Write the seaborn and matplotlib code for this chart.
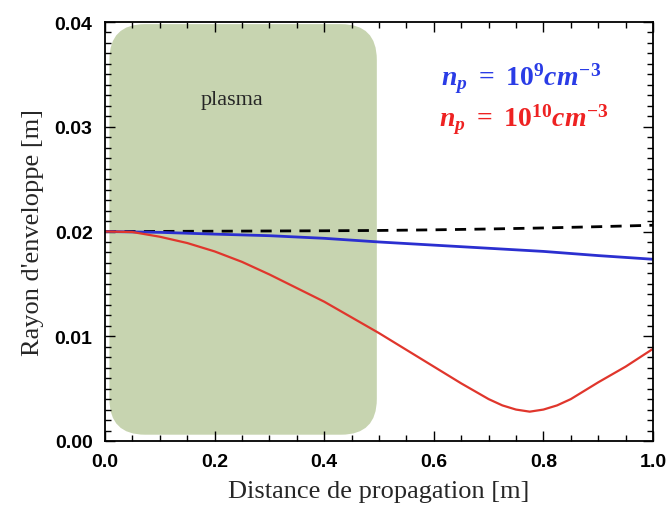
import numpy as np
import pandas as pd
import matplotlib
matplotlib.use("Agg")
import matplotlib.pyplot as plt
import seaborn as sns
from matplotlib.patches import FancyBboxPatch
from matplotlib.ticker import MultipleLocator, FormatStrFormatter

# Distance de propagation [m]
x_rouge = [0.00, 0.05, 0.10, 0.15, 0.20, 0.25, 0.30, 0.35, 0.40, 0.45, 0.50,
           0.55, 0.60, 0.65, 0.70, 0.725, 0.75, 0.775, 0.80, 0.825, 0.85, 0.875,
           0.90, 0.95, 1.00]
# Rayon d'enveloppe, n_p = 1e10 cm^-3
r_rouge = [0.0200, 0.01995, 0.0195, 0.0189, 0.0181, 0.0171, 0.0159, 0.0146, 0.0133, 0.0118, 0.0103,
           0.0087, 0.0071, 0.0055, 0.0040, 0.0034, 0.0030, 0.0028, 0.0030, 0.0034, 0.0040, 0.0048,
           0.0056, 0.0071, 0.0088]

x_bleu = [0.0, 0.1, 0.2, 0.3, 0.4, 0.5, 0.6, 0.7, 0.8, 0.9, 1.0]
# Rayon d'enveloppe, n_p = 1e9 cm^-3
r_bleu = [0.0200, 0.01992, 0.01975, 0.0196, 0.01935, 0.0190, 0.0187, 0.0184, 0.0181, 0.0177, 0.01735]
# Sans plasma (pointillés)
r_vide = [0.0200, 0.02001, 0.02003, 0.02005, 0.02007, 0.0201, 0.02016, 0.02024, 0.02034, 0.02046, 0.0206]

# zone plasma
plasma_debut, plasma_fin = 0.008, 0.496
plasma_bas, plasma_haut = 0.0006, 0.0398

df_rouge = pd.DataFrame({"z": x_rouge, "r": r_rouge})
df_bleu = pd.DataFrame({"z": x_bleu, "r": r_bleu, "vide": r_vide})

sns.set_style("ticks")
plt.rcParams["mathtext.fontset"] = "custom"
plt.rcParams["mathtext.it"] = "Liberation Serif:italic:bold"
plt.rcParams["mathtext.rm"] = "Liberation Serif:bold"
plt.rcParams["mathtext.bf"] = "Liberation Serif:bold"

fig = plt.figure(figsize=(6.71, 5.06), dpi=100)
ax = fig.add_axes([0.1565, 0.1265, 0.8167, 0.828])

# rectangle arrondi pour le plasma
aspect = (0.04 / 419) * 548
rect = FancyBboxPatch((plasma_debut, plasma_bas), plasma_fin - plasma_debut, plasma_haut - plasma_bas,
                      boxstyle="round,pad=0,rounding_size=0.065", mutation_aspect=aspect,
                      facecolor="#c7d4b0", edgecolor="none", zorder=0)
ax.add_patch(rect)
ax.text(0.232, 0.0326, "plasma", family="Liberation Serif", fontsize=16, ha="center", va="center")

sns.lineplot(data=df_bleu, x="z", y="vide", ax=ax, color="black", lw=2, linestyle=(0, (4, 3)))
sns.lineplot(data=df_bleu, x="z", y="r", ax=ax, color="#2b2fd0", lw=2)
sns.lineplot(data=df_rouge, x="z", y="r", ax=ax, color="#e0362c", lw=1.6)

ax.text(0.614, 0.0340, r"$n_p\ =\ 10^9 cm^{-3}$", color="#2a3ce6", fontsize=20, va="baseline")
ax.text(0.610, 0.0301, r"$n_p\ =\ 10^{10} cm^{-3}$", color="#ee2222", fontsize=20, va="baseline")

ax.set_xlim(0, 1)
ax.set_ylim(0, 0.04)
ax.xaxis.set_major_locator(MultipleLocator(0.2))
ax.xaxis.set_minor_locator(MultipleLocator(0.05))
ax.yaxis.set_major_locator(MultipleLocator(0.01))
ax.yaxis.set_minor_locator(MultipleLocator(0.001))
ax.xaxis.set_major_formatter(FormatStrFormatter("%.1f"))
ax.yaxis.set_major_formatter(FormatStrFormatter("%.2f"))
ax.tick_params(which="both", direction="in", top=True, right=True, width=1, colors="black")
ax.tick_params(which="major", length=7)
ax.tick_params(which="minor", length=4)
ax.tick_params(axis="x", pad=9)
ax.tick_params(axis="y", pad=9)
for lab in ax.get_xticklabels() + ax.get_yticklabels():
    lab.set_fontweight("bold")
    lab.set_family("Liberation Sans")
    lab.set_fontsize(14)
for s in ax.spines.values():
    s.set_linewidth(1.3)
    s.set_color("black")

ax.set_xlabel("Distance de propagation [m]", family="Liberation Serif", fontsize=19, labelpad=7)
ax.set_ylabel("Rayon d'enveloppe [m]", family="Liberation Serif", fontsize=19, labelpad=8)

fig.savefig("out.png", dpi=100)
